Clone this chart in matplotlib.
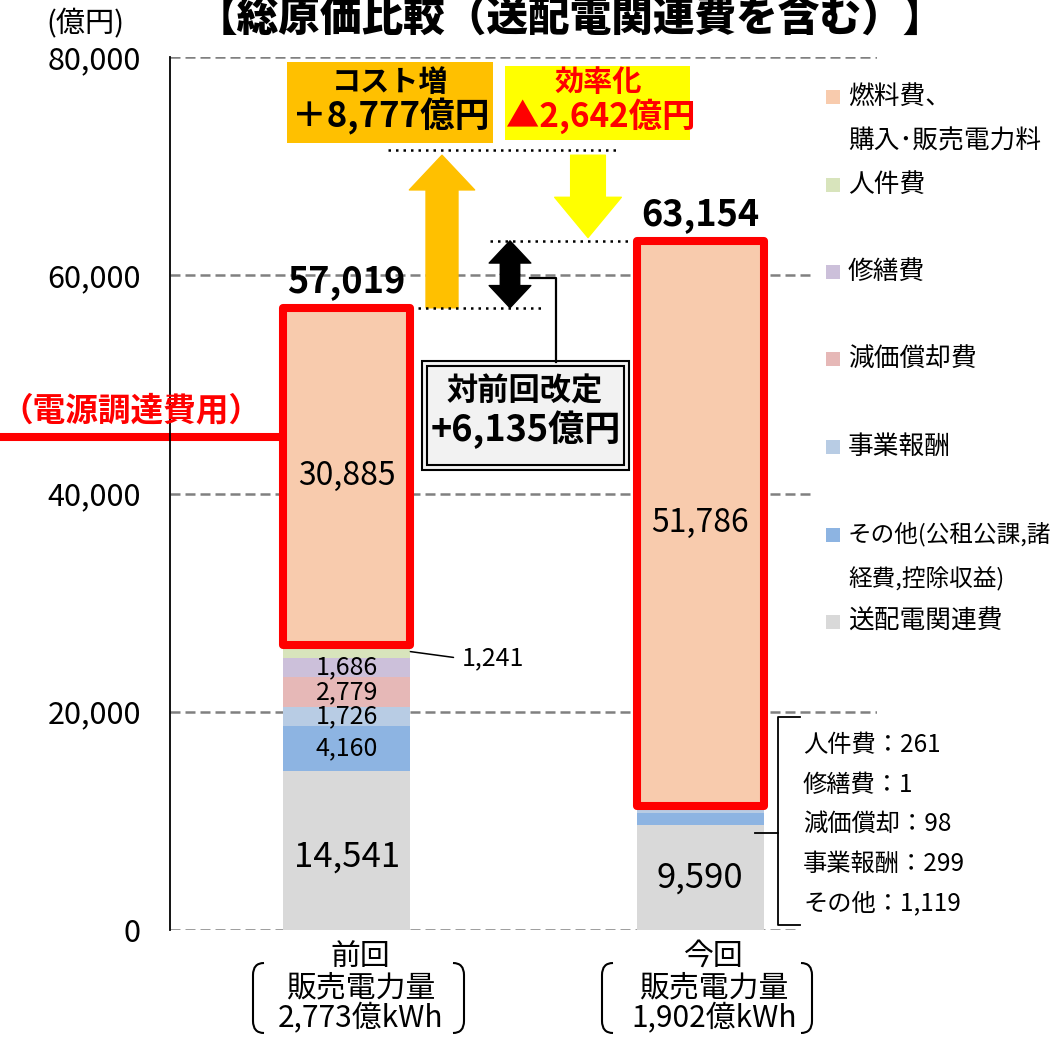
import matplotlib
matplotlib.use('Agg')
import matplotlib.pyplot as plt
import matplotlib.patches as mpatches
from matplotlib.lines import Line2D
from matplotlib.path import Path
from matplotlib.ticker import FuncFormatter
from matplotlib.transforms import ScaledTranslation

plt.rcParams['font.family'] = ['Noto Sans CJK JP', 'DejaVu Sans']

# --- data (億円) ---
periods = ['前回', '今回']
period_labels = ['前回\n販売電力量\n2,773億kWh', '今回\n販売電力量\n1,902億kWh']
items = ['送配電関連費', 'その他', '事業報酬', '減価償却費', '修繕費', '人件費', '燃料費']
legend_labels = ['送配電関連費', 'その他(公租公課,諸\n経費,控除収益)', '事業報酬',
                 '減価償却費', '修繕費', '人件費', '燃料費、\n購入･販売電力料']
prev_vals = [14541, 4160, 1726, 2779, 1686, 1241, 30885]
curr_vals = [9590, 1119, 299, 98, 1, 261, 51786]
total_labels = [57019, 63154]  # totals as stated (rounded)
colors = ['#D9D9D9', '#8DB4E2', '#B8CCE4', '#E6B8B7', '#CCC0DA', '#D8E4BC', '#F8CBAD']
curr_notes = ['人件費：261', '修繕費：1', '減価償却：98', '事業報酬：299', 'その他：1,119']
yticks = [0, 20000, 40000, 60000, 80000]

W, H = 1052, 1038


def fx(px):
    return px / W


def fy(py):
    return 1 - py / H


def xd(px):
    # pixel x -> data x (axes spans 170..877 px for -0.5..1.5)
    return (px - 170) / 353.5 - 0.5


def yd(py):
    return (930 - py) / 873 * 80000


fig = plt.figure(figsize=(W / 100, H / 100), dpi=100)
ax = fig.add_axes([fx(170), fy(930), (877 - 170) / W, (930 - 57) / H])
ax.patch.set_visible(False)

x = [0, 1]
width = 0.36
series = [prev_vals, curr_vals]
totals = [sum(v) for v in series]

for i, vals in enumerate(series):
    bottom = 0
    for j, v in enumerate(vals):
        is_fuel = j == len(vals) - 1
        ax.bar(x[i], v, width, bottom=bottom, color=colors[j],
               edgecolor='#FF0000' if is_fuel else 'none',
               linewidth=5.8 if is_fuel else 0, joinstyle='round',
               zorder=4 if is_fuel else 3)
        bottom += v

# value labels, previous bar
b = 0
for j, v in enumerate(prev_vals):
    c = b + v / 2
    if j == 0:
        ax.text(x[0], c - 600, f'{v:,}', ha='center', va='center', fontsize=25, zorder=6)
    elif j == 5:
        ax.annotate(f'{v:,}', xy=(x[0] + width / 2, c), xytext=(37, -5),
                    textcoords='offset points', ha='left', va='center', fontsize=18,
                    arrowprops=dict(arrowstyle='-', lw=1.1, color='black',
                                    relpos=(0, 0.5), shrinkA=4, shrinkB=0))
    elif j == 6:
        ax.text(x[0], c, f'{v:,}', ha='center', va='center', fontsize=23, zorder=6)
    else:
        ax.text(x[0], c, f'{v:,}', ha='center', va='center', fontsize=18, zorder=6)
    b += v

ax.text(x[1], curr_vals[0] / 2, f'{curr_vals[0]:,}', ha='center', va='center',
        fontsize=25, zorder=6)
ax.text(x[1], totals[1] - curr_vals[-1] / 2, f'{curr_vals[-1]:,}', ha='center',
        va='center', fontsize=23, zorder=6)

for i in range(2):
    ax.annotate(f'{total_labels[i]:,}', xy=(x[i], totals[i]), xytext=(0, 19),
                textcoords='offset points', ha='center', va='center',
                fontsize=26, fontweight='bold', zorder=6)

# axes styling
ax.set_xlim(-0.5, 1.5)
ax.set_ylim(0, 80000)
ax.set_yticks(yticks)
ax.yaxis.set_major_formatter(FuncFormatter(lambda v, p: f'{int(v):,}'))
ax.tick_params(axis='y', length=0, pad=21, labelsize=22)
ax.set_xticks(x)
ax.set_xticklabels(period_labels, fontsize=21.5, linespacing=1.0)
ax.tick_params(axis='x', length=0, pad=8)
shift = ScaledTranslation(10 / 72, 0, fig.dpi_scale_trans)
for lab in ax.get_xticklabels():
    lab.set_transform(lab.get_transform() + shift)
for s in ['top', 'right', 'bottom']:
    ax.spines[s].set_visible(False)
ax.spines['left'].set_linewidth(1.3)
ax.spines['left'].set_zorder(8)
ax.set_axisbelow(True)
ax.yaxis.grid(True, color='#808080', linestyle=(0, (4, 2)), linewidth=1.8)

# arrows: cost up / efficiency down / difference
arrow_top = 71000
ax.add_patch(mpatches.FancyArrowPatch(
    (xd(442), totals[0]), (xd(442), arrow_top),
    arrowstyle=mpatches.ArrowStyle.Simple(head_length=25, head_width=47, tail_width=23),
    color='#FFC000', shrinkA=0, shrinkB=0, zorder=5))
ax.add_patch(mpatches.FancyArrowPatch(
    (xd(588), arrow_top), (xd(588), totals[1] + 300),
    arrowstyle=mpatches.ArrowStyle.Simple(head_length=29, head_width=48, tail_width=25),
    color='#FFFF00', shrinkA=0, shrinkB=0, zorder=5))
mid = (totals[0] + totals[1]) / 2
for end in totals:
    ax.add_patch(mpatches.FancyArrowPatch(
        (xd(510), mid), (xd(510), end),
        arrowstyle=mpatches.ArrowStyle.Simple(head_length=16, head_width=30, tail_width=14),
        color='black', shrinkA=0, shrinkB=0, zorder=5))

dot = dict(colors='black', linestyles=(0, (1, 2)), linewidth=1.8, zorder=5)
ax.hlines(totals[1], xd(490), xd(630), **dot)
ax.hlines(totals[0], xd(418), xd(542), **dot)
ax.hlines(yd(150), xd(388), xd(618), **dot)

# connector to difference box
fig.add_artist(Line2D([fx(530), fx(556), fx(556)], [fy(278), fy(278), fy(362)],
                      color='black', lw=1.6))
fig.add_artist(mpatches.Rectangle((fx(422), fy(470)), fx(629) - fx(422), fy(361) - fy(470),
                                  facecolor='#F2F2F2', edgecolor='black', lw=1.5))
fig.add_artist(mpatches.Rectangle((fx(427), fy(465)), fx(624) - fx(427), fy(366) - fy(465),
                                  facecolor='none', edgecolor='black', lw=1.5))
fig.text(fx(525), fy(391), '対前回改定', ha='center', va='center', fontsize=22.5, fontweight='bold')
fig.text(fx(526), fy(430), '+6,135億円', ha='center', va='center', fontsize=26, fontweight='bold')

# cost / efficiency boxes
fig.add_artist(mpatches.Rectangle((fx(287), fy(143)), fx(493) - fx(287), fy(62) - fy(143),
                                  facecolor='#FFC000', edgecolor='none'))
fig.text(fx(390), fy(82), 'コスト増', ha='center', va='center', fontsize=21, fontweight='bold')
fig.text(fx(391), fy(116), '＋8,777億円', ha='center', va='center', fontsize=25, fontweight='bold')
fig.add_artist(mpatches.Rectangle((fx(505), fy(140)), fx(690) - fx(505), fy(66) - fy(140),
                                  facecolor='#FFFF00', edgecolor='none'))
fig.text(fx(598), fy(82), '効率化', ha='center', va='center', fontsize=21,
         fontweight='bold', color='#FF0000')
fig.text(fx(601), fy(116), '▲2,642億円', ha='center', va='center', fontsize=24,
         fontweight='bold', color='#FF0000')

# title and unit
fig.text(fx(570), fy(19), '【総原価比較（送配電関連費を含む）】', ha='center', va='center',
         fontsize=30, fontweight='heavy')
fig.text(fx(85), fy(24), '(億円)', ha='center', va='center', fontsize=21)

# procurement cost marker (drawn under the axis line)
fig.add_artist(Line2D([0, fx(280)], [fy(437), fy(437)], color='#FF0000', lw=5.8, zorder=-1))
fig.text(fx(0), fy(411), '（電源調達費用）', ha='left', va='center', fontsize=23.5,
         fontweight='bold', color='#FF0000')

# cover gridlines behind legend / notes
fig.add_artist(mpatches.Rectangle((fx(812), fy(645)), 1 - fx(812), fy(70) - fy(645),
                                  facecolor='white', edgecolor='none', zorder=1))
fig.add_artist(mpatches.Rectangle((fx(797), fy(935)), fx(880) - fx(797), fy(927) - fy(935),
                                  facecolor='white', edgecolor='none', zorder=1))

# legend (top to bottom)
for k, (lab, col) in enumerate(zip(legend_labels[::-1], colors[::-1])):
    y0 = 97 + k * 87.5
    fs = 17 if lab.startswith('その他') else 18.5
    fig.add_artist(mpatches.Rectangle((fx(826), fy(y0 + 7)), fx(14), fy(0) - fy(14),
                                      facecolor=col, edgecolor='none', zorder=2))
    for n, line in enumerate(lab.split('\n')):
        fig.text(fx(848), fy(y0 + n * 44), line, ha='left', va='center', fontsize=fs)

# bracket with current small items
fig.add_artist(Line2D([fx(800), fx(778), fx(778), fx(800)],
                      [fy(717), fy(717), fy(925), fy(925)], color='black', lw=1.3))
fig.add_artist(Line2D([fx(755), fx(778)], [fy(833), fy(833)], color='black', lw=1.3))
for k, note in enumerate(curr_notes):
    fig.text(fx(803), fy(745 + k * 39.5), note, ha='left', va='center', fontsize=17.5)


# round brackets around the x labels
def paren(x_in, x_out, top, bot):
    verts = [(fx(x_in), fy(top)), (fx(x_out), fy(top)), (fx(x_out), fy(top + 12)),
             (fx(x_out), fy(bot - 12)), (fx(x_out), fy(bot)), (fx(x_in), fy(bot))]
    codes = [Path.MOVETO, Path.CURVE3, Path.CURVE3, Path.LINETO, Path.CURVE3, Path.CURVE3]
    fig.add_artist(mpatches.PathPatch(Path(verts, codes), fill=False, lw=1.5,
                                      edgecolor='black'))


paren(264, 253, 963, 1033)
paren(453, 464, 963, 1033)
paren(613, 602, 963, 1033)
paren(801, 812, 963, 1033)

fig.savefig('out.png', dpi=100)
